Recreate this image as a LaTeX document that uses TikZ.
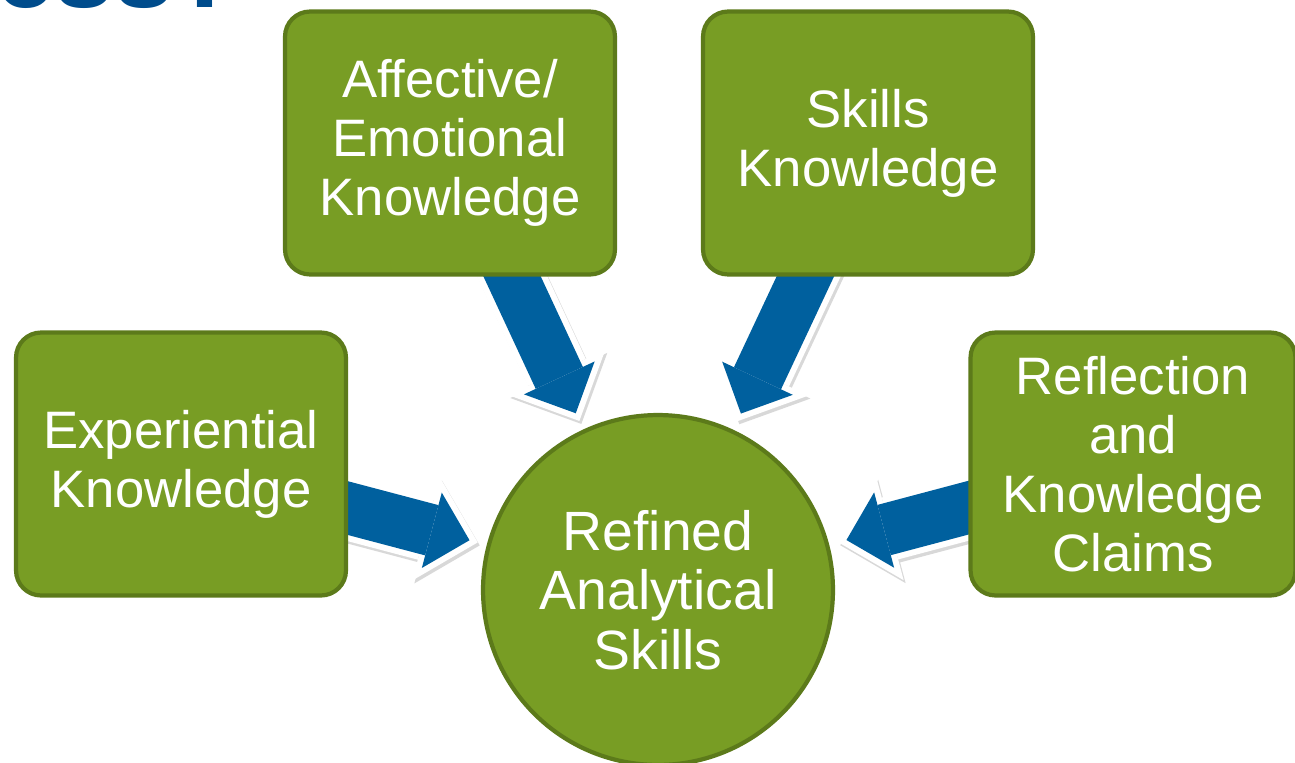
\documentclass[tikz,border=0pt]{standalone}
\usepackage{fontspec}
\setmainfont{Liberation Sans}
\usetikzlibrary{arrows.meta,calc,backgrounds}
\definecolor{leaf}{RGB}{120,157,36}
\definecolor{leafdark}{RGB}{92,122,26}
\definecolor{flow}{RGB}{0,96,158}
\definecolor{heading}{RGB}{0,76,140}

\begin{document}
\begin{tikzpicture}[x=0.02cm,y=-0.02cm,
  topic/.style={draw=leafdark,line width=2.4pt,fill=leaf,text=white,align=center,
    font=\fontsize{30}{33.5}\selectfont},
  card/.style={topic,rounded corners=0.5cm,minimum width=6.6cm,minimum height=5.26cm},
  core/.style={topic,circle,minimum size=7cm,inner sep=0pt,font=\fontsize{31.5}{34}\selectfont},
  flowshade/.style={line width=1.28cm,black!30,opacity=.5,
    -{Triangle[width=2.14cm,length=1.07cm,line width=0pt]}},
  flowhalo/.style={line width=1.28cm,white,-{Triangle[width=2.14cm,length=1.07cm,line width=0pt]}},
  flowbody/.style={line width=1.04cm,flow,-{Triangle[width=1.56cm,length=0.78cm,line width=0pt]}}]
\useasboundingbox (0,0) rectangle (1295,762);
% title, cut off by the page
\begin{scope}
\clip (0,0) rectangle (1295,762);
\node[anchor=base east,inner sep=0pt,text=heading,font=\bfseries\fontsize{61}{61}\selectfont]
  (title) at (240,7) {Process?};
\end{scope}
% the five nodes
\node[card] (aff) at (450,143) {Affective/\\Emotional\\Knowledge};
\node[card] (skl) at (868,143) {Skills\\Knowledge};
\node[card] (exp) at (181,464) {Experiential\\Knowledge};
\node[card,minimum width=6.5cm] (rfl) at (1133,464) {Reflection\\and\\Knowledge\\Claims};
\node[core] (goal) at (658,590) {Refined\\Analytical\\Skills};
% block arrows, behind the boxes
\begin{scope}[on background layer]
\foreach \src in {exp,aff,skl,rfl}{
  \draw[flowshade,transform canvas={shift={(0.04cm,-0.06cm)}}]
    (\src.center) -- ($(goal)!3.73cm!(\src.center)$);
  \draw[flowhalo] (\src.center) -- ($(goal)!3.73cm!(\src.center)$);
  \draw[flowbody] (\src.center) -- ($(goal)!3.9cm!(\src.center)$);
}
\end{scope}
\end{tikzpicture}
\end{document}
